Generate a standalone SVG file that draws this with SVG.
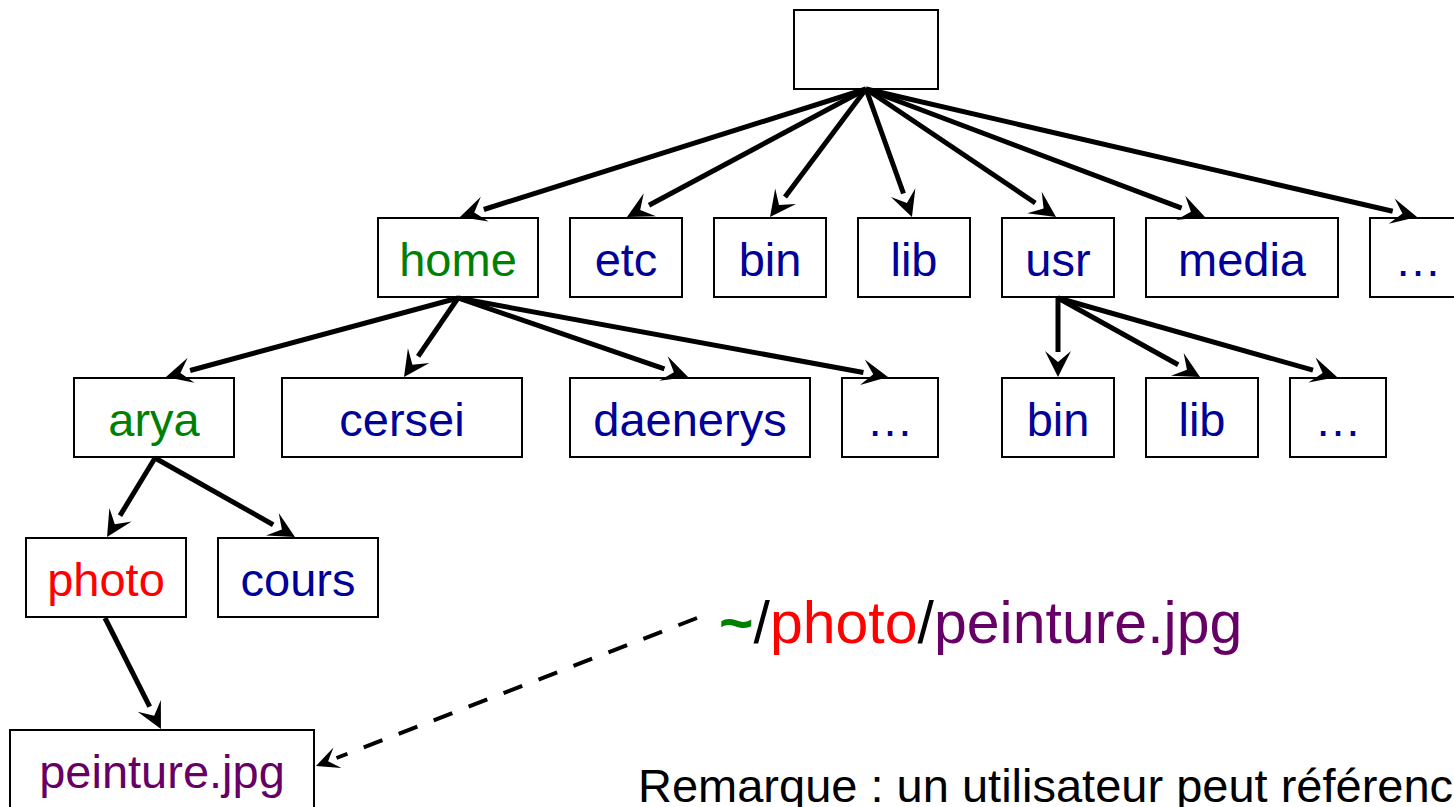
<svg xmlns="http://www.w3.org/2000/svg" width="1454" height="807" viewBox="0 0 1454 807">
<style>
.box{fill:#ffffff;stroke:#000000;stroke-width:2}
.lbl{font-family:"Liberation Sans",Arial,sans-serif;font-size:47px;text-anchor:middle}
.g{fill:#008000}
.b{fill:#000099}
.r{fill:#ff0000}
.p{fill:#660066}
.edge{stroke:#000000;stroke-width:5;fill:none;marker-end:url(#head)}
.dash{stroke:#000000;stroke-width:4;fill:none;stroke-dasharray:20 17.5;marker-end:url(#headSmall)}
</style>
<defs>
<marker id="head" markerUnits="userSpaceOnUse" viewBox="-2 -14 28 28" markerWidth="28" markerHeight="28" refX="0" refY="0" orient="auto" overflow="visible">
<path d="M25,0 L-1,-13 L10,0 L-1,13 Z" fill="#000000"/>
</marker>
<marker id="headSmall" markerUnits="userSpaceOnUse" viewBox="-2 -12 26 24" markerWidth="26" markerHeight="24" refX="0" refY="0" orient="auto" overflow="visible">
<path d="M22,0 L-1,-11 L9,0 L-1,11 Z" fill="#000000"/>
</marker>
</defs>
<rect width="1454" height="807" fill="#ffffff"/>
<g id="root"><rect class="box" x="794" y="10" width="144" height="79"/></g>
<g id="home"><rect class="box" x="378" y="218" width="160" height="79"/><text class="lbl g" x="458" y="276">home</text></g>
<g id="etc"><rect class="box" x="570" y="218" width="112" height="79"/><text class="lbl b" x="626" y="276">etc</text></g>
<g id="bin"><rect class="box" x="714" y="218" width="112" height="79"/><text class="lbl b" x="770" y="276">bin</text></g>
<g id="lib"><rect class="box" x="858" y="218" width="112" height="79"/><text class="lbl b" x="914" y="276">lib</text></g>
<g id="usr"><rect class="box" x="1002" y="218" width="112" height="79"/><text class="lbl b" x="1058" y="276">usr</text></g>
<g id="media"><rect class="box" x="1146" y="218" width="192" height="79"/><text class="lbl b" x="1242" y="276">media</text></g>
<g id="more1"><rect class="box" x="1370" y="218" width="96" height="79"/><text class="lbl b" x="1418" y="276">…</text></g>
<g id="arya"><rect class="box" x="74" y="378" width="160" height="79"/><text class="lbl g" x="154" y="436">arya</text></g>
<g id="cersei"><rect class="box" x="282" y="378" width="240" height="79"/><text class="lbl b" x="402" y="436">cersei</text></g>
<g id="daenerys"><rect class="box" x="570" y="378" width="240" height="79"/><text class="lbl b" x="690" y="436">daenerys</text></g>
<g id="more2"><rect class="box" x="842" y="378" width="96" height="79"/><text class="lbl b" x="890" y="436">…</text></g>
<g id="usrbin"><rect class="box" x="1002" y="378" width="112" height="79"/><text class="lbl b" x="1058" y="436">bin</text></g>
<g id="usrlib"><rect class="box" x="1146" y="378" width="112" height="79"/><text class="lbl b" x="1202" y="436">lib</text></g>
<g id="more3"><rect class="box" x="1290" y="378" width="96" height="79"/><text class="lbl b" x="1338" y="436">…</text></g>
<g id="photo"><rect class="box" x="26" y="538" width="160" height="79"/><text class="lbl r" x="106" y="596">photo</text></g>
<g id="cours"><rect class="box" x="218" y="538" width="160" height="79"/><text class="lbl b" x="298" y="596">cours</text></g>
<g id="peinture"><rect class="box" x="10" y="730" width="304" height="95"/><text class="lbl p" x="162" y="788">peinture.jpg</text></g>
<g id="connectors">
<line class="edge" x1="866" y1="89" x2="483.8" y2="209.5"/>
<line class="edge" x1="866" y1="89" x2="649.0" y2="205.2"/>
<line class="edge" x1="866" y1="89" x2="785" y2="197"/>
<line class="edge" x1="866" y1="89" x2="903.5" y2="193.5"/>
<line class="edge" x1="866" y1="89" x2="1035.3" y2="203.0"/>
<line class="edge" x1="866" y1="89" x2="1181.6" y2="208.2"/>
<line class="edge" x1="866" y1="89" x2="1392.7" y2="211.3"/>
<line class="edge" x1="458" y1="298" x2="190.1" y2="370.5"/>
<line class="edge" x1="458" y1="298" x2="418.1" y2="356.4"/>
<line class="edge" x1="458" y1="298" x2="664.4" y2="368.9"/>
<line class="edge" x1="458" y1="298" x2="863.4" y2="372.5"/>
<line class="edge" x1="1058" y1="298" x2="1058" y2="352"/>
<line class="edge" x1="1058" y1="298" x2="1178.2" y2="364.8"/>
<line class="edge" x1="1058" y1="298" x2="1313.0" y2="370.2"/>
<line class="edge" x1="155" y1="458" x2="120.0" y2="515.6"/>
<line class="edge" x1="155" y1="458" x2="273.2" y2="524.7"/>
<line class="edge" x1="105" y1="618" x2="149.7" y2="706.7"/>
<line class="dash" x1="697" y1="618" x2="336.5" y2="758.0"/>
</g>
<g id="path-label"><text x="719" y="643" font-family="'Liberation Sans',Arial,sans-serif" font-size="59"><tspan fill="#008000" font-weight="bold">~</tspan><tspan fill="#000000">/</tspan><tspan fill="#ff0000">photo</tspan><tspan fill="#000000">/</tspan><tspan fill="#660066">peinture.jpg</tspan></text></g>
<g id="remark"><text x="638" y="802" font-family="'Liberation Sans',Arial,sans-serif" font-size="47" fill="#000000">Remarque : un utilisateur peut référenc</text></g>
</svg>
